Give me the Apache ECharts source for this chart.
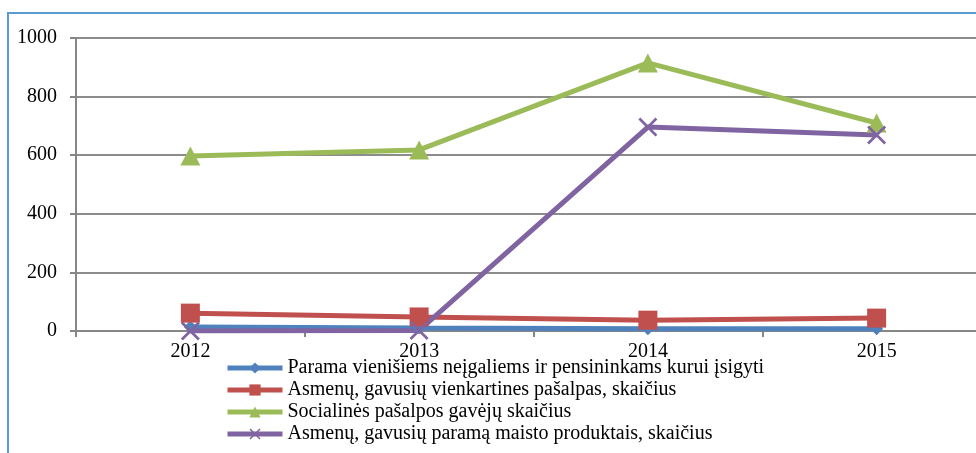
<!DOCTYPE html>
<html>
<head>
<meta charset="utf-8">
<script src="https://cdn.jsdelivr.net/npm/echarts@6/dist/echarts.min.js"></script>
<style>
  html, body { margin: 0; padding: 0; background: #fff; }
  #main { width: 976px; height: 453px; }
</style>
</head>
<body>
<div id="main"></div>
<script>
// kategorijos ir duomenys
const years = ['2012', '2013', '2014', '2015'];
const parama = [14, 10, 8, 8];
const vienkartines = [61, 48, 37, 44];
const socialines = [597, 618, 915, 710];
const maistas = [0, 2, 696, 669];
const yTicks = [0, 200, 400, 600, 800, 1000];

const names = [
  'Parama vienišiems neįgaliems ir pensininkams kurui įsigyti',
  'Asmenų, gavusių vienkartines pašalpas, skaičius',
  'Socialinės pašalpos gavėjų skaičius',
  'Asmenų, gavusių paramą maisto produktais, skaičius'
];

const serif = '"Liberation Serif", "Times New Roman", serif';
const crossPath = 'path://M0,1L1,0L10,9L9,10Z M9,0L10,1L1,10L0,9Z';

let myChart = echarts.init(document.getElementById('main'));
let option = {
  animation: false,
  textStyle: { fontFamily: serif },
  graphic: [
    {
      type: 'rect',
      shape: { x: 8, y: 13, width: 1000, height: 500 },
      style: { fill: 'none', stroke: '#5b9bd5', lineWidth: 2 },
      silent: true
    }
  ],
  grid: {
    left: 76, width: 915, top: 38, bottom: 122,
    containLabel: false, outerBoundsMode: 'none'
  },
  legend: {
    orient: 'vertical',
    left: 225,
    top: 358,
    itemGap: 2,
    itemWidth: 55,
    itemHeight: 14,
    padding: 0,
    lineStyle: { width: 5 },
    textStyle: { fontFamily: serif, fontSize: 20, lineHeight: 20, color: '#000' },
    data: names
  },
  xAxis: {
    type: 'category',
    data: years,
    boundaryGap: true,
    axisLine: { lineStyle: { color: '#868686', width: 2 } },
    axisTick: { show: true, length: 6, lineStyle: { color: '#868686', width: 2 } },
    axisLabel: { color: '#000', fontSize: 20, fontFamily: serif, margin: 11 }
  },
  yAxis: {
    type: 'value',
    min: yTicks[0],
    max: yTicks[yTicks.length - 1],
    interval: 200,
    axisLine: { show: true, lineStyle: { color: '#868686', width: 2 } },
    axisTick: { show: true, length: 6, lineStyle: { color: '#868686', width: 2 } },
    splitLine: { lineStyle: { color: '#8c8c8c', width: 2 } },
    axisLabel: { color: '#000', fontSize: 20, fontFamily: serif, margin: 19, formatter: v => String(v) }
  },
  series: [
    {
      name: names[0], type: 'line', data: parama,
      symbol: 'diamond', symbolSize: 13,
      color: '#4f81bd', lineStyle: { width: 5 }
    },
    {
      name: names[1], type: 'line', data: vienkartines,
      symbol: 'rect', symbolSize: 19,
      color: '#c0504d', lineStyle: { width: 5 }
    },
    {
      name: names[2], type: 'line', data: socialines,
      symbol: 'triangle', symbolSize: [20, 19],
      color: '#9bbb59', lineStyle: { width: 5 }
    },
    {
      name: names[3], type: 'line', data: maistas,
      symbol: crossPath, symbolSize: 19,
      color: '#8064a2', lineStyle: { width: 5 }
    }
  ]
};
myChart.setOption(option);
</script>
</body>
</html>
